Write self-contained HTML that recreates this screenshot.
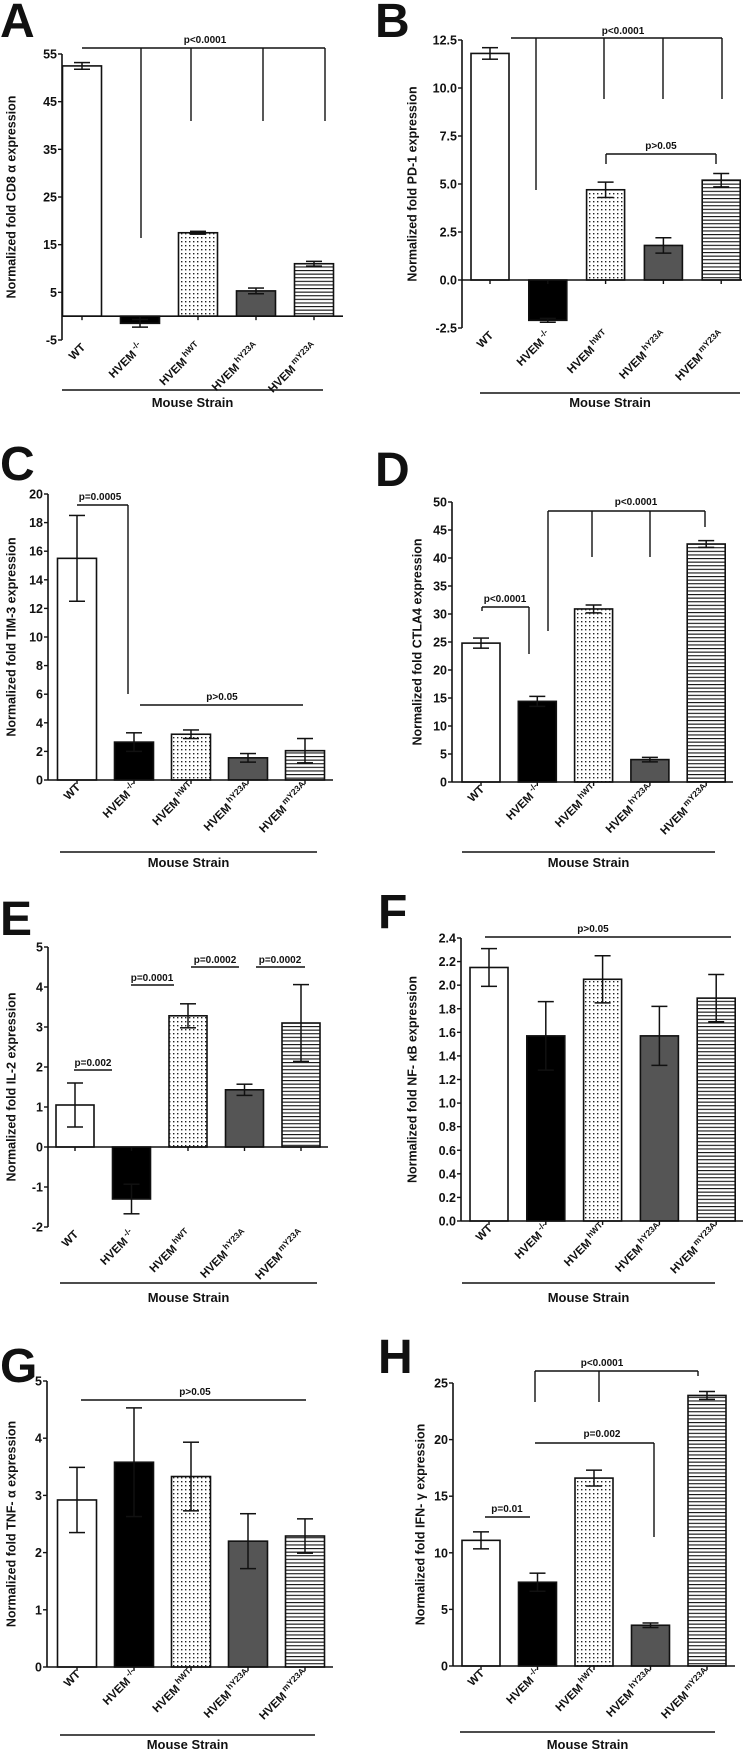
<!DOCTYPE html>
<html><head><meta charset="utf-8">
<style>
html,body{margin:0;padding:0;background:#fff;}
svg{display:block;font-family:"Liberation Sans",Arial,sans-serif;}
</style></head>
<body>
<svg id="fig" width="750" height="1750" viewBox="0 0 750 1750">
<defs>
<pattern id="dots" width="4" height="4" patternUnits="userSpaceOnUse">
<rect width="4" height="4" fill="#fff"/><rect x="1" y="1" width="1.4" height="1.4" fill="#222"/>
</pattern>
<pattern id="stripes" width="4" height="3.6" patternUnits="userSpaceOnUse">
<rect width="4" height="3.6" fill="#fff"/><rect y="0" width="4" height="1.1" fill="#111"/>
</pattern>
</defs>
</svg>
<script>
// ---- data ----
const categories = ["WT","HVEM","HVEM","HVEM","HVEM"];
const categorySups = ["","-/-","hWT","hY23A","mY23A"];
const fills = ["#fff","#000","url(#dots)","#555","url(#stripes)"];

const meansA = [52.5,-1.5,17.5,5.3,11.0];
const errsA  = [0.7,0.8,0.3,0.6,0.5];
const ticksA = [-5,5,15,25,35,45,55];
const tickLabelsA = ["-5","5","15","25","35","45","55"];

const meansB = [11.8,-2.1,4.7,1.8,5.2];
const errsB  = [0.3,0.1,0.4,0.4,0.35];
const ticksB = [-2.5,0,2.5,5,7.5,10,12.5];
const tickLabelsB = ["-2.5","0.0","2.5","5.0","7.5","10.0","12.5"];

const meansC = [15.5,2.65,3.2,1.55,2.05];
const errsC  = [3.0,0.65,0.3,0.3,0.85];
const ticksC = [0,2,4,6,8,10,12,14,16,18,20];
const tickLabelsC = ["0","2","4","6","8","10","12","14","16","18","20"];

const meansD = [24.8,14.4,30.9,4.0,42.5];
const errsD  = [0.9,0.9,0.7,0.4,0.6];
const ticksD = [0,5,10,15,20,25,30,35,40,45,50];
const tickLabelsD = ["0","5","10","15","20","25","30","35","40","45","50"];

const meansE = [1.05,-1.3,3.28,1.43,3.1];
const errsE  = [0.55,0.37,0.3,0.14,0.96];
const ticksE = [-2,-1,0,1,2,3,4,5];
const tickLabelsE = ["-2","-1","0","1","2","3","4","5"];

const meansF = [2.15,1.57,2.05,1.57,1.89];
const errsF  = [0.16,0.29,0.2,0.25,0.2];
const ticksF = [0,0.2,0.4,0.6,0.8,1.0,1.2,1.4,1.6,1.8,2.0,2.2,2.4];
const tickLabelsF = ["0.0","0.2","0.4","0.6","0.8","1.0","1.2","1.4","1.6","1.8","2.0","2.2","2.4"];

const meansG = [2.92,3.58,3.33,2.2,2.29];
const errsG  = [0.57,0.95,0.6,0.48,0.3];
const ticksG = [0,1,2,3,4,5];
const tickLabelsG = ["0","1","2","3","4","5"];

const meansH = [11.1,7.4,16.6,3.6,23.9];
const errsH  = [0.75,0.8,0.7,0.2,0.35];
const ticksH = [0,5,10,15,20,25];
const tickLabelsH = ["0","5","10","15","20","25"];

const titles = {
 A:"Normalized fold CD8  \u03b1 expression", B:"Normalized fold PD-1 expression",
 C:"Normalized fold TIM-3 expression", D:"Normalized fold CTLA4 expression",
 E:"Normalized fold IL-2 expression", F:"Normalized fold NF-  \u03baB expression",
 G:"Normalized fold TNF-  \u03b1 expression", H:"Normalized fold IFN-  \u03b3 expression"
};

// ---- layout ----
const layouts = {
 A:{ax:62,vmin:-5,py0:340,vmax:55,py1:54,cx0:82,step:58,bw:39,axEnd:343,tx:12,ms:[62,323,390,407],lab:[0,37]},
 B:{ax:462,vmin:-2.5,py0:328,vmax:12.5,py1:40,cx0:490,step:57.8,bw:38,axEnd:742,tx:413,ms:[480,740,393,407],lab:[375,37]},
 C:{ax:48,vmin:0,py0:780,vmax:20,py1:494,cx0:77,step:57,bw:39,axEnd:333,tx:12,ms:[60,317,852,867],lab:[0,480]},
 D:{ax:452,vmin:0,py0:782,vmax:50,py1:502,cx0:481,step:56.3,bw:38,axEnd:733,tx:418,ms:[462,715,852,867],lab:[375,486]},
 E:{ax:48,vmin:-2,py0:1227,vmax:5,py1:947,cx0:75,step:56.5,bw:38,axEnd:328,tx:12,ms:[60,317,1283,1302],lab:[0,935]},
 F:{ax:461,vmin:0,py0:1221,vmax:2.4,py1:938,cx0:489,step:56.8,bw:38,axEnd:743,tx:413,ms:[462,715,1283,1302],lab:[378,928]},
 G:{ax:47,vmin:0,py0:1667,vmax:5,py1:1381,cx0:77,step:57,bw:39,axEnd:333,tx:12,ms:[60,315,1735,1749],lab:[0,1382]},
 H:{ax:453,vmin:0,py0:1666,vmax:25,py1:1383,cx0:481,step:56.5,bw:38,axEnd:735,tx:421,ms:[460,715,1732,1749],lab:[378,1373]}
};

const svg = document.getElementById('fig');
const NS = "http://www.w3.org/2000/svg";
function mk(tag, attrs, parent){
  const e = document.createElementNS(NS, tag);
  for (const k in attrs) e.setAttribute(k, attrs[k]);
  (parent||svg).appendChild(e);
  return e;
}
function line(g,x1,y1,x2,y2,w){ return mk('line',{x1,y1,x2,y2,stroke:'#111','stroke-width':w||1.6},g); }
function txt(g,x,y,s,size,anchor,weight){
  const t = mk('text',{x,y,'font-size':size,'text-anchor':anchor||'middle','font-weight':weight||'bold',fill:'#111'},g);
  t.textContent = s; return t;
}

function drawPanel(key, means, errs, ticks, tickLabels){
  const L = layouts[key];
  const g = mk('g',{});
  
  
  const y = v => L.py0 + (v - L.vmin) / (L.vmax - L.vmin) * (L.py1 - L.py0);
  const cx = i => L.cx0 + i * L.step;
  const y0 = y(0);

  const letter = txt(g, L.lab[0], L.lab[1], key, 48, 'start', 'bold');
  
  

  // y axis
  const ya = line(g, L.ax, y(L.vmax), L.ax, y(L.vmin), 1.6);
  
  
  ticks.forEach((t, i) => {
    line(g, L.ax - 4, y(t), L.ax, y(t), 1.4);
    const tl = txt(g, L.ax - 5, y(t) + 4.5, tickLabels[i], 12.5, 'end');
    
    
  });
  // y title
  const ym = (y(L.vmax) + y(L.vmin)) / 2;
  const tt = mk('text',{x:L.tx, y:ym, 'font-size':12.5,'font-weight':'bold','text-anchor':'middle',
      transform:`rotate(-90 ${L.tx} ${ym})`, 'dominant-baseline':'middle', fill:'#111'}, g);
  tt.textContent = titles[key];
  
  

  // bars
  means.forEach((m, i) => {
    const top = y(Math.max(0, m)), bot = y(Math.min(0, m));
    const r = mk('rect',{x:cx(i) - L.bw/2, y:top, width:L.bw, height:Math.max(1, bot - top),
      fill:fills[i], stroke:'#111','stroke-width':1.6}, g);
    
    
    const e = errs[i];
    const eg = mk('g',{},g);
    
    
    line(eg, cx(i), y(m - e), cx(i), y(m + e), 1.5);
    line(eg, cx(i) - 8, y(m + e), cx(i) + 8, y(m + e), 1.5);
    line(eg, cx(i) - 8, y(m - e), cx(i) + 8, y(m - e), 1.5);
  });

  // x axis
  const xa = line(g, L.ax, y0, L.axEnd, y0, 1.6);
  
  
  categories.forEach((c, i) => {
    line(g, cx(i), y0, cx(i), y0 + 4, 1.4);
    const lx = cx(i) + 4, ly = y(L.vmin) + 8;
    const t = mk('text',{x:lx, y:ly, 'font-size':11.5,'font-weight':'bold','text-anchor':'end',
       transform:`rotate(-45 ${lx} ${ly})`, fill:'#111'}, g);
    
    
    const a = document.createElementNS(NS,'tspan'); a.textContent = c; t.appendChild(a);
    if (categorySups[i]) {
      const s = document.createElementNS(NS,'tspan');
      s.setAttribute('font-size','8.5'); s.setAttribute('dy','-5'); s.setAttribute('dx','2');
      s.textContent = categorySups[i]; t.appendChild(s);
    }
  });

  // mouse strain
  line(g, L.ms[0], L.ms[2], L.ms[1], L.ms[2], 1.4);
  const mt = txt(g, (L.ms[0] + L.ms[1]) / 2, L.ms[3], "Mouse Strain", 13, 'middle');
  
  
  return g;
}

drawPanel('A', meansA, errsA, ticksA, tickLabelsA);
drawPanel('B', meansB, errsB, ticksB, tickLabelsB);
drawPanel('C', meansC, errsC, ticksC, tickLabelsC);
drawPanel('D', meansD, errsD, ticksD, tickLabelsD);
drawPanel('E', meansE, errsE, ticksE, tickLabelsE);
drawPanel('F', meansF, errsF, ticksF, tickLabelsF);
drawPanel('G', meansG, errsG, ticksG, tickLabelsG);
drawPanel('H', meansH, errsH, ticksH, tickLabelsH);

// ---- significance annotations (layout) ----
function bracket(label, tx, ty, hline, drops){
  const g = mk('g',{});
  
  
  line(g, hline[0], hline[2], hline[1], hline[2], 1.4);
  drops.forEach(d => line(g, d[0], hline[2], d[0], d[1], 1.4));
  txt(g, tx, ty, label, 10, 'middle');
}
bracket("p<0.0001", 205, 43, [82,325,48], [[141,238],[191,121],[263,121],[325,121]]);
bracket("p<0.0001", 623, 34, [511,722,38], [[536,190],[604,99],[663,99],[722,99]]);
bracket("p>0.05", 661, 149, [606,716,154], [[606,164],[716,164]]);
bracket("p=0.0005", 100, 500, [77,128,505], [[128,694]]);
bracket("p>0.05", 222, 700, [140,303,705], []);
bracket("p<0.0001", 505, 602, [482,529,607], [[482,611],[529,654]]);
bracket("p<0.0001", 636, 505, [548,705,511], [[548,631],[592,557],[650,557],[705,527]]);
bracket("p=0.002", 93, 1066, [74,112,1070], []);
bracket("p=0.0001", 152, 981, [131,174,985], []);
bracket("p=0.0002", 215, 963, [191,239,967], []);
bracket("p=0.0002", 280, 963, [256,305,967], []);
bracket("p>0.05", 593, 932, [485,731,937], []);
bracket("p>0.05", 195, 1395, [81,306,1400], []);
bracket("p<0.0001", 602, 1366, [535,698,1371], [[535,1402],[599,1402],[698,1376]]);
bracket("p=0.002", 602, 1437, [535,654,1443], [[654,1537]]);
bracket("p=0.01", 507, 1512, [485,530,1517], []);
</script>
</body></html>
